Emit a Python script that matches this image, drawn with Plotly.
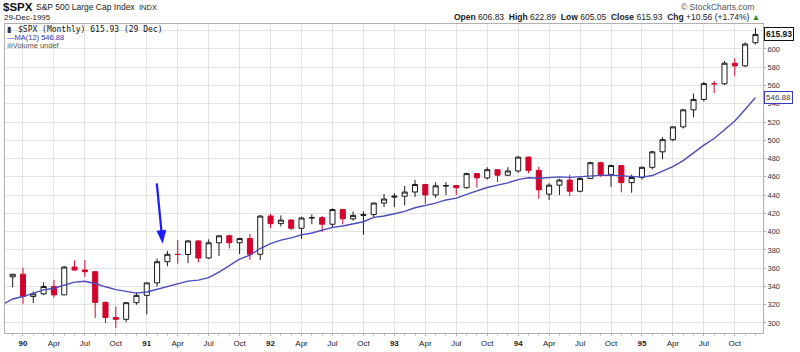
import plotly.graph_objects as go

# ---------------- data ----------------
month_names = ["Jan", "Feb", "Mar", "Apr", "May", "Jun", "Jul", "Aug", "Sep", "Oct", "Nov", "Dec"]
# all months shown (Nov-89 only carries the MA value at the left edge)
all_months = ["Nov 89", "Dec 89"] + [f"{m} {y:02d}" for y in range(90, 96) for m in month_names]
candle_months = all_months[1:]  # Dec-89 .. Dec-95

opens = [350.5,
         353.40, 329.08, 331.89, 339.94, 330.80, 361.23, 358.02, 356.15, 322.56, 306.05, 304.00, 322.22,
         330.22, 343.93, 367.07, 375.22, 375.00, 389.83, 371.16, 387.81, 395.43, 387.86, 392.46, 375.22,
         417.09, 408.79, 412.70, 403.69, 414.95, 415.35, 408.14, 424.21, 414.03, 417.80, 418.68, 431.35,
         437.80, 438.78, 443.38, 451.67, 440.19, 449.80, 450.53, 448.13, 463.56, 458.93, 467.83, 461.79,
         466.45, 481.61, 467.14, 441.00, 450.91, 456.50, 444.27, 458.26, 475.49, 462.69, 472.35, 453.69,
         459.27, 470.42, 487.39, 500.71, 514.71, 533.40, 544.75, 562.06, 561.88, 584.41, 581.50, 606.83]
highs = [353.6,
         360.6, 334.5, 344.5, 347.3, 362.3, 368.5, 369.0, 357.0, 323.5, 318.0, 323.0, 333.7,
         344.0, 370.5, 379.0, 391.0, 391.0, 390.5, 391.5, 395.7, 396.8, 393.3, 397.5, 418.0,
         419.6, 417.8, 413.5, 416.5, 418.8, 417.0, 425.5, 425.0, 422.0, 422.3, 431.5, 441.3,
         442.0, 450.0, 456.8, 452.0, 454.0, 454.3, 451.0, 464.5, 463.8, 470.5, 468.5, 470.5,
         482.8, 482.0, 471.0, 453.0, 458.0, 462.4, 459.5, 476.6, 476.5, 473.5, 472.5, 462.5,
         471.5, 488.5, 503.5, 515.2, 534.0, 551.1, 563.8, 565.0, 586.9, 589.7, 607.4, 622.89]
lows = [339.0,
        321.0, 322.0, 330.5, 327.8, 330.5, 357.5, 350.5, 305.3, 300.0, 294.5, 301.0, 320.0,
        309.4, 340.0, 362.0, 365.0, 365.6, 366.5, 370.0, 373.4, 381.6, 375.5, 369.0, 369.0,
        404.0, 405.7, 401.8, 392.2, 408.2, 399.4, 405.0, 408.0, 412.0, 396.5, 416.0, 427.0,
        426.9, 428.7, 438.0, 430.5, 437.0, 440.0, 440.0, 447.0, 448.3, 457.0, 454.3, 461.0,
        464.5, 464.0, 435.9, 434.8, 440.0, 439.0, 443.0, 457.5, 460.0, 449.0, 443.0, 442.6,
        457.0, 468.0, 479.3, 499.0, 513.0, 525.2, 542.5, 551.8, 560.5, 570.0, 580.2, 605.05]
closes = [353.40,
          329.08, 331.89, 339.94, 330.80, 361.23, 358.02, 356.15, 322.56, 306.05, 304.00, 322.22, 330.22,
          343.93, 367.07, 375.22, 375.00, 389.83, 371.16, 387.81, 395.43, 387.86, 392.46, 375.22, 417.09,
          408.79, 412.70, 403.69, 414.95, 415.35, 408.14, 424.21, 414.03, 417.80, 418.68, 431.35, 435.71,
          438.78, 443.38, 451.67, 440.19, 450.19, 450.53, 448.13, 463.56, 458.93, 467.83, 461.79, 466.45,
          481.61, 467.14, 445.77, 450.91, 456.50, 444.27, 458.26, 475.49, 462.69, 472.35, 453.69, 459.27,
          470.42, 487.39, 500.71, 514.71, 533.40, 544.75, 562.06, 561.88, 584.41, 581.50, 605.37, 615.93]
# 12-month simple moving average of the close (Nov-89 .. Dec-95)
ma12 = [320.00, 326.31,
        328.95, 332.53, 336.29, 338.05, 341.45, 344.78, 345.62, 343.21, 339.62, 336.59, 334.61, 332.68,
        333.92, 336.85, 339.79, 343.50, 345.88, 346.98, 349.62, 355.69, 362.51, 369.88, 374.30, 381.54,
        386.94, 390.74, 393.12, 396.42, 398.54, 401.62, 404.66, 406.21, 408.70, 410.89, 415.57, 417.12,
        419.62, 422.17, 426.17, 428.27, 431.18, 434.71, 436.70, 440.83, 444.26, 448.35, 450.89, 453.45,
        457.02, 459.00, 458.51, 459.40, 459.93, 459.41, 460.25, 461.25, 461.56, 461.94, 461.26, 460.66,
        459.73, 461.42, 465.99, 471.31, 477.72, 486.09, 494.74, 501.94, 512.09, 521.18, 533.82, 546.88]

y_ticks = list(range(300, 621, 20))
quarter_labels = {"Jan": None, "Apr": "Apr", "Jul": "Jul", "Oct": "Oct"}

# ---------------- geometry helpers ----------------
W, H = 800, 352
ML, MR, MT, MB = 4, 37, 24, 10
PX_PER_MONTH = 10.33
JAN90_PX = 22.0
PX_PER_UNIT = 0.94
Y300_PX = 331.7

pos = {m: i - 2 for i, m in enumerate(all_months)}  # Jan-90 -> 0

x_lo = (ML - JAN90_PX) / PX_PER_MONTH
x_hi = x_lo + (W - ML - MR) / PX_PER_MONTH
y_hi = 300 + (Y300_PX - MT) / PX_PER_UNIT
y_lo = y_hi - (H - MT - MB) / PX_PER_UNIT


def px2paper_x(px):
    return (px - ML) / (W - ML - MR)


def px2paper_y(py):
    return (H - MB - py) / (H - MT - MB)


RED = "#d2042d"
BLACK = "#1a1a1a"
BLUE_MA = "#4b4bbb"
FONT = "Liberation Sans, Arial, sans-serif"

# ---------------- split candles by colour (vs previous close) ----------------
prev_close = [None] + closes[:-1]
groups = {"black": ([], [], [], [], []), "red": ([], [], [], [], [])}
for i, m in enumerate(candle_months):
    pc = prev_close[i]
    key = "red" if (pc is not None and closes[i] < pc) else "black"
    g = groups[key]
    g[0].append(pos[m]); g[1].append(opens[i]); g[2].append(highs[i]); g[3].append(lows[i]); g[4].append(closes[i])

fig = go.Figure()
fig.add_trace(go.Scatter(
    x=[pos[m] for m in all_months], y=ma12, mode="lines",
    line=dict(color=BLUE_MA, width=1.4), hoverinfo="skip", showlegend=False))

for key, col in (("black", BLACK), ("red", RED)):
    g = groups[key]
    fig.add_trace(go.Candlestick(
        x=g[0], open=g[1], high=g[2], low=g[3], close=g[4],
        increasing=dict(line=dict(color=col, width=1), fillcolor="white"),
        decreasing=dict(line=dict(color=col, width=1), fillcolor=col),
        whiskerwidth=0, showlegend=False, hoverinfo="skip"))

# ---------------- axes ----------------
tickvals, ticktext = [], []
for m in candle_months:
    mn, yy = m.split()
    if mn in quarter_labels:
        tickvals.append(pos[m])
        ticktext.append(f"<b>{yy}</b>" if mn == "Jan" else quarter_labels[mn])

fig.update_xaxes(
    range=[x_lo, x_hi], tickvals=tickvals, ticktext=ticktext,
    showgrid=True, gridcolor="#e3e3e3", gridwidth=1,
    showline=True, linecolor="#b0b0b0", linewidth=1, mirror=True,
    ticks="outside", ticklen=2, tickcolor="#b0b0b0",
    minor=dict(tickvals=[pos[m] for m in candle_months], ticks="outside", ticklen=2,
               tickcolor="#c8c8c8", showgrid=False),
    tickfont=dict(family=FONT, size=8, color="#222"),
    rangeslider=dict(visible=False), zeroline=False, fixedrange=True)

fig.update_yaxes(
    range=[y_lo, y_hi], side="right", tickvals=y_ticks,
    showgrid=True, gridcolor="#e3e3e3", gridwidth=1,
    showline=True, linecolor="#b0b0b0", linewidth=1, mirror=True,
    ticks="outside", ticklen=2, tickcolor="#b0b0b0",
    tickfont=dict(family=FONT, size=7.5, color="#333"),
    zeroline=False, fixedrange=True)

# ---------------- annotations ----------------
ann = []


def add_text(px, py, text, size, color="#111", family=FONT, xanchor="left", **kw):
    ann.append(dict(x=px2paper_x(px), y=px2paper_y(py), xref="paper", yref="paper",
                    text=text, showarrow=False, xanchor=xanchor, yanchor="middle",
                    font=dict(family=family, size=size, color=color), **kw))


add_text(0, 6.5, "<b>$SPX</b>", 11.5, "#111")
add_text(33, 7, "S&P 500 Large Cap Index", 8.5, "#222")
add_text(136, 7, "INDX", 7.5, "#222")
add_text(1, 17.5, "29-Dec-1995", 8, "#222")
add_text(756, 6, "© StockCharts.com", 8.5, "#555", xanchor="right")
add_text(762, 17, "<b>Open</b> 606.83  <b>High</b> 622.89  <b>Low</b> 605.05  "
         "<b>Close</b> 615.93  <b>Chg</b> +10.56 (+1.74%) <span style='color:#2a8a2a'>▲</span>",
         8.5, "#222", xanchor="right")

# in-plot legend
add_text(4, 29.5, "▮", 8, "#333")
add_text(15, 29.5, f"$SPX (Monthly) {closes[-1]:.2f} (29 Dec)", 8, "#111",
         family="DejaVu Sans Mono, monospace")
add_text(4, 38, f"<span style='color:{BLUE_MA}'>—</span>MA(12) {ma12[-1]:.2f}", 7.5, "#3030a8")
add_text(4, 46.5, "ılıVolume undef", 7.5, "#555")

# right price tags
ann.append(dict(x=1.0, y=closes[-1], xref="paper", yref="y", text=f"<b>{closes[-1]:.2f}</b>",
                showarrow=False, xanchor="left", yanchor="middle", xshift=1,
                font=dict(family=FONT, size=8.5, color="#111"),
                bgcolor="white", bordercolor="#111", borderwidth=1, borderpad=1))
ann.append(dict(x=1.0, y=ma12[-1], xref="paper", yref="y", text=f"{ma12[-1]:.2f}",
                showarrow=False, xanchor="left", yanchor="middle", xshift=1,
                font=dict(family=FONT, size=8, color="#444"),
                bgcolor="white", bordercolor="#3a3ab8", borderwidth=1, borderpad=1))

# blue arrow pointing at the March-1991 candle
tail = (156.0, 188.0)
tip = (161.8, 249.5)
dx, dy = tip[0] - tail[0], tip[1] - tail[1]
L = (dx * dx + dy * dy) ** 0.5
ux, uy = dx / L, dy / L
head_len, half_w = 13.0, 4.6
bx, by = tip[0] - ux * head_len, tip[1] - uy * head_len
p1 = (bx + (-uy) * half_w, by + ux * half_w)
p2 = (bx - (-uy) * half_w, by - ux * half_w)
shapes = [
    dict(type="line", xref="paper", yref="paper",
         x0=px2paper_x(tail[0]), y0=px2paper_y(tail[1]),
         x1=px2paper_x(bx + ux * 2), y1=px2paper_y(by + uy * 2),
         line=dict(color="#1a1aff", width=2.2)),
    dict(type="path", xref="paper", yref="paper",
         path=(f"M{px2paper_x(tip[0])},{px2paper_y(tip[1])} "
               f"L{px2paper_x(p1[0])},{px2paper_y(p1[1])} "
               f"L{px2paper_x(p2[0])},{px2paper_y(p2[1])} Z"),
         fillcolor="#1a1aff", line=dict(color="#1a1aff", width=0.5)),
]

fig.update_layout(
    width=W, height=H, margin=dict(l=ML, r=MR, t=MT, b=MB),
    paper_bgcolor="white", plot_bgcolor="white",
    showlegend=False, annotations=ann, shapes=shapes,
    boxgap=0.3, hovermode=False,
)

fig.write_html("out.html")
